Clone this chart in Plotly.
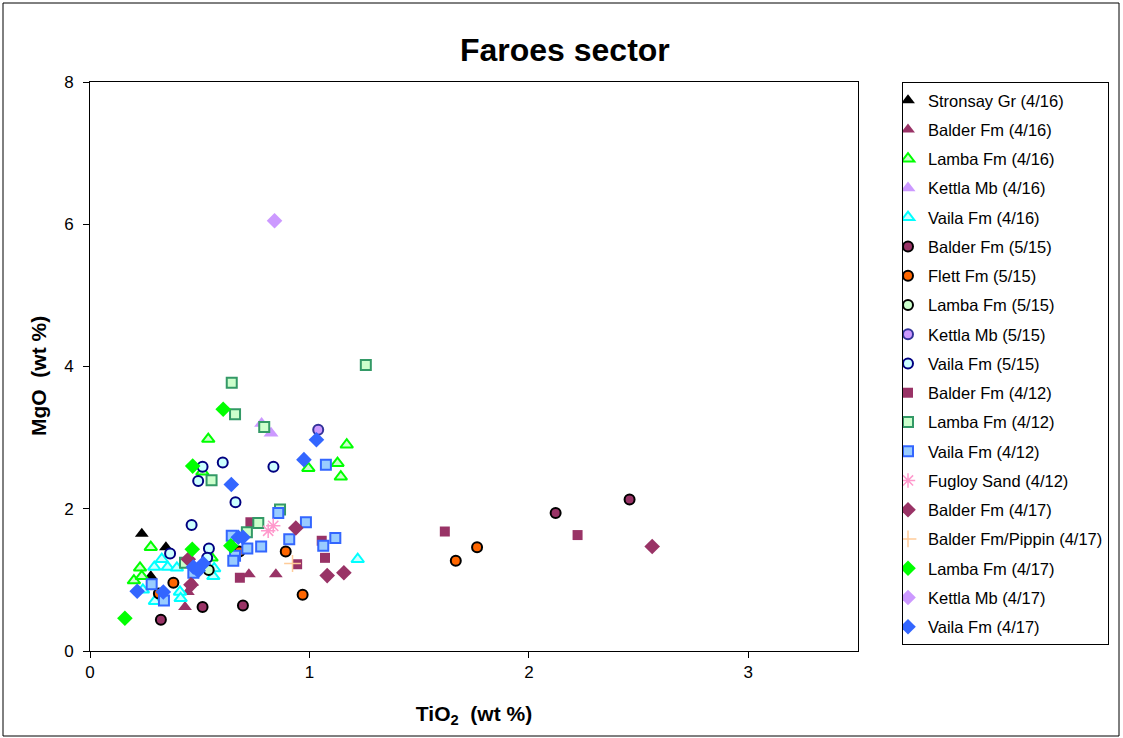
import plotly.graph_objects as go

# ---------------- data (TiO2 wt%, MgO wt%) ----------------
stronsay_416_x = [0.236, 0.346, 0.277]
stronsay_416_y = [1.65, 1.46, 1.05]

balder_416_x = [0.433, 0.446, 0.465, 0.724, 0.847]
balder_416_y = [0.62, 0.83, 0.96, 1.08, 1.08]

lamba_416_x = [0.277, 0.228, 0.200, 0.236, 0.539, 0.512, 0.554, 0.995, 1.128, 1.170, 1.143]
lamba_416_y = [1.46, 1.17, 0.99, 1.05, 2.98, 2.52, 1.31, 2.57, 2.64, 2.90, 2.45]

kettla_416_x = [0.782, 0.825]
kettla_416_y = [3.20, 3.06]

vaila_416_x = [0.327, 0.293, 0.354, 0.396, 0.241, 0.296, 0.410, 0.413, 0.562, 0.566, 1.220]
vaila_416_y = [1.29, 1.18, 1.18, 1.17, 0.86, 0.70, 0.83, 0.74, 1.05, 1.16, 1.29]

balder_515_x = [0.323, 0.513, 0.697, 2.122, 2.459]
balder_515_y = [0.44, 0.62, 0.64, 1.94, 2.13]

flett_515_x = [0.380, 0.314, 0.681, 0.892, 0.969, 1.667, 1.764]
flett_515_y = [0.96, 0.81, 1.40, 1.40, 0.79, 1.27, 1.46]

lamba_515_x = [0.541]
lamba_515_y = [1.14]

kettla_515_x = [1.040]
kettla_515_y = [3.11]

vaila_515_x = [0.513, 0.605, 0.493, 0.836, 0.663, 0.463, 0.365, 0.542, 0.534]
vaila_515_y = [2.59, 2.65, 2.39, 2.59, 2.09, 1.77, 1.37, 1.44, 1.31]

balder_412_x = [0.731, 0.683, 0.944, 1.056, 1.071, 1.617, 2.222]
balder_412_y = [1.81, 1.03, 1.22, 1.55, 1.31, 1.68, 1.63]

lamba_412_x = [0.646, 0.661, 0.794, 1.257, 0.554, 0.866, 0.767, 0.715, 0.433]
lamba_412_y = [3.77, 3.33, 3.15, 4.02, 2.40, 1.99, 1.80, 1.67, 1.24]

vaila_412_x = [1.075, 0.858, 0.984, 0.908, 1.118, 1.063, 0.646, 0.717, 0.780, 0.661, 0.653, 0.281, 0.337, 0.471]
vaila_412_y = [2.62, 1.94, 1.81, 1.57, 1.59, 1.48, 1.62, 1.44, 1.47, 1.34, 1.27, 0.94, 0.71, 1.10]

fugloy_412_x = [0.812, 0.835]
fugloy_412_y = [1.69, 1.76]

balder_417_x = [0.448, 0.460, 0.938, 1.081, 1.157, 2.562]
balder_417_y = [1.29, 0.93, 1.73, 1.06, 1.10, 1.47]

pippin_417_x = [0.923]
pippin_417_y = [1.23]

lamba_417_x = [0.159, 0.466, 0.642, 0.607, 0.468]
lamba_417_y = [0.46, 1.43, 1.48, 3.40, 2.60]

kettla_417_x = [0.841]
kettla_417_y = [6.05]

vaila_417_x = [1.032, 0.975, 0.644, 0.215, 0.334, 0.516, 0.471, 0.493, 0.676, 0.697]
vaila_417_y = [2.97, 2.69, 2.34, 0.84, 0.83, 1.23, 1.18, 1.13, 1.60, 1.60]

# ---------------- series styling ----------------
series = [
    ("Stronsay Gr (4/16)", stronsay_416_x, stronsay_416_y, "triangle-up", 12, "#000000", "#000000", 0),
    ("Balder Fm (4/16)", balder_416_x, balder_416_y, "triangle-up", 12, "#993366", "#993366", 0),
    ("Lamba Fm (4/16)", lamba_416_x, lamba_416_y, "triangle-up", 11, "#CCFFCC", "#00FF00", 2),
    ("Kettla Mb (4/16)", kettla_416_x, kettla_416_y, "triangle-up", 13, "#CC99FF", "#CC99FF", 0),
    ("Vaila Fm (4/16)", vaila_416_x, vaila_416_y, "triangle-up", 11, "#CCFFFF", "#00FFFF", 2),
    ("Balder Fm (5/15)", balder_515_x, balder_515_y, "circle", 10, "#993366", "#000000", 2),
    ("Flett Fm (5/15)", flett_515_x, flett_515_y, "circle", 10, "#FF6600", "#000000", 2),
    ("Lamba Fm (5/15)", lamba_515_x, lamba_515_y, "circle", 10, "#CCFFCC", "#000000", 2),
    ("Kettla Mb (5/15)", kettla_515_x, kettla_515_y, "circle", 10, "#CC99FF", "#333399", 2),
    ("Vaila Fm (5/15)", vaila_515_x, vaila_515_y, "circle", 10, "#CCFFFF", "#000080", 2),
    ("Balder Fm (4/12)", balder_412_x, balder_412_y, "square", 10, "#993366", "#993366", 0),
    ("Lamba Fm (4/12)", lamba_412_x, lamba_412_y, "square", 10, "#CCFFCC", "#339966", 2),
    ("Vaila Fm (4/12)", vaila_412_x, vaila_412_y, "square", 10, "#99CCFF", "#3366FF", 2),
    ("Fugloy Sand (4/12)", fugloy_412_x, fugloy_412_y, "asterisk-open", 12, "#FF99CC", "#FF99CC", 1.5),
    ("Balder Fm (4/17)", balder_417_x, balder_417_y, "diamond", 12, "#993366", "#993366", 0),
    ("Balder Fm/Pippin (4/17)", pippin_417_x, pippin_417_y, "cross-thin-open", 12, "#FFCC99", "#FFCC99", 1.5),
    ("Lamba Fm (4/17)", lamba_417_x, lamba_417_y, "diamond", 12, "#00FF00", "#00FF00", 0),
    ("Kettla Mb (4/17)", kettla_417_x, kettla_417_y, "diamond", 12, "#CC99FF", "#CC99FF", 0),
    ("Vaila Fm (4/17)", vaila_417_x, vaila_417_y, "diamond", 12, "#3366FF", "#3366FF", 0),
]

FONT = "Liberation Sans, Arial, sans-serif"

fig = go.Figure()
for i, (name, xs, ys, sym, size, fill, line, lw) in enumerate(series):
    fig.add_trace(go.Scatter(
        x=xs, y=ys, mode="markers", name=name, legendgroup=f"g{i}",
        marker=dict(symbol=sym, size=size, color=fill,
                    line=dict(color=line, width=lw)),
    ))

W, H = 1123, 738
L, R, T, B = 90, 858, 82, 651
pw, ph = R - L, B - T


def px_x(p):
    return (p - L) / pw


def px_y(p):
    return (B - p) / ph


fig.update_layout(
    width=W, height=H,
    margin=dict(l=L, r=W - R, t=T, b=H - B),
    paper_bgcolor="white", plot_bgcolor="white",
    font=dict(family=FONT, size=17, color="black"),
    title=dict(text="<b>Faroes sector</b>", x=0.503, xref="container",
               xanchor="center", y=1 - 50 / H, yref="container", yanchor="middle",
               font=dict(size=32, family=FONT, color="black")),
    xaxis=dict(range=[0, 3.5], dtick=1, tick0=0, showgrid=False, zeroline=False,
               showline=True, linecolor="black", linewidth=1, mirror=True,
               ticks="outside", ticklen=6, tickcolor="black",
               tickfont=dict(size=17),
               title=dict(text="<b>TiO<sub>2</sub>  (wt %)</b>", font=dict(size=21), standoff=24)),
    yaxis=dict(range=[0, 8], dtick=2, tick0=0, showgrid=False, zeroline=False,
               showline=True, linecolor="black", linewidth=1, mirror=True,
               ticks="outside", ticklen=6, tickcolor="black",
               tickfont=dict(size=17), ticklabelstandoff=6),
    legend=dict(x=px_x(902), y=px_y(82), xanchor="left", yanchor="top",
                bordercolor="black", borderwidth=1, bgcolor="white",
                font=dict(size=16.5, family=FONT), tracegroupgap=4.8,
                traceorder="grouped", itemwidth=30, indentation=-15),
    showlegend=True,
)

# y-axis title placed to match the reference
fig.add_annotation(text="<b>MgO  (wt %)</b>", xref="paper", yref="paper",
                   x=px_x(38), y=px_y(376), xanchor="center", yanchor="middle",
                   textangle=-90, showarrow=False, font=dict(size=21, family=FONT, color="black"))

# outer chart-area frame
fig.add_shape(type="rect", xref="paper", yref="paper",
              x0=px_x(3), x1=px_x(1119), y0=px_y(736), y1=px_y(3),
              line=dict(color="black", width=1), fillcolor="rgba(0,0,0,0)", layer="below")

fig.write_html("out.html")
